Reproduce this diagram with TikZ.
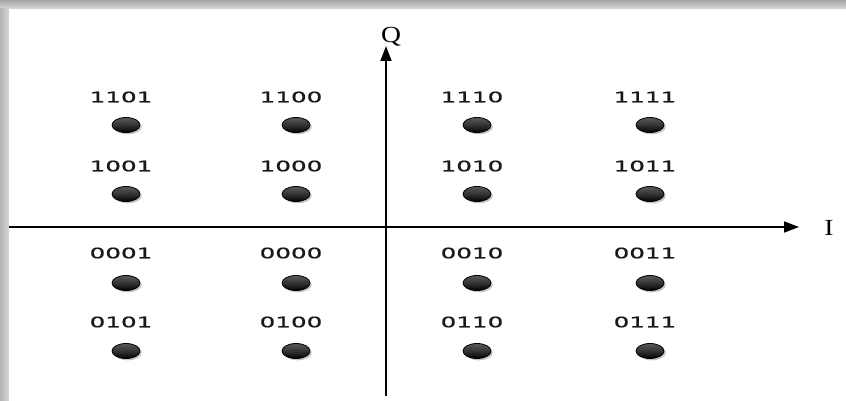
\documentclass[tikz,border=0pt]{standalone}
\usepackage{fontspec}
\usepackage{tikz}
\usetikzlibrary{arrows.meta,shapes.geometric,shadows}

\newfontfamily\bitfont[FakeStretch=1.7,FakeBold=0.6]{DejaVu Sans}
\newfontfamily\axfont[FakeStretch=1.2]{Liberation Serif}

\tikzset{
  dot/.style={ellipse, minimum width=28pt, minimum height=15pt, inner sep=0pt,
    draw=black, line width=0.8pt, top color=black!65, bottom color=black, middle color=black!80,
    drop shadow={shadow xshift=1.8pt, shadow yshift=-1.8pt, opacity=0.45}},
  bits/.style={font=\bitfont\fontsize{14.5}{15}\selectfont, text=black!90, inner sep=0pt},
  axis/.style={line width=1.7pt, -{Triangle[length=15pt,width=11pt]}},
  axlabel/.style={font=\axfont\fontsize{23}{25}\selectfont, inner sep=0pt}
}

\begin{document}
\begin{tikzpicture}[x=1pt,y=-1pt]
  \useasboundingbox (0,0) rectangle (846,401);
  % frame with inner shadow
  \fill[white] (0,0) rectangle (846,401);
  \shade[top color=black!35, bottom color=black!15] (0,0) rectangle (846,9);
  \shade[left color=black!30, right color=black!15] (0,9) rectangle (9,401);

  % Axes
  \coordinate (Istart) at (9,227);
  \coordinate (Iend) at (799,227);
  \coordinate (Qstart) at (386,396);
  \coordinate (Qend) at (386,46);
  \draw[axis] (Istart) -- (Iend);
  \draw[axis] (Qstart) -- (Qend);
  \node[axlabel] (Ilab) at (829,228) {I};
  \node[axlabel] (Qlab) at (391,37) {Q};

  % top row
  \node[bits] (l1101) at (121,97) {1101};
  \node[dot] (d1101) at (126,125) {};
  \node[bits] (l1100) at (291,97) {1100};
  \node[dot] (d1100) at (296,125) {};
  \node[bits] (l1110) at (472,97) {1110};
  \node[dot] (d1110) at (477,125) {};
  \node[bits] (l1111) at (645,97) {1111};
  \node[dot] (d1111) at (650,125) {};

  % second row
  \node[bits] (l1001) at (121,166) {1001};
  \node[dot] (d1001) at (126,194) {};
  \node[bits] (l1000) at (291,166) {1000};
  \node[dot] (d1000) at (296,194) {};
  \node[bits] (l1010) at (472,166) {1010};
  \node[dot] (d1010) at (477,194) {};
  \node[bits] (l1011) at (645,166) {1011};
  \node[dot] (d1011) at (650,194) {};

  % third row
  \node[bits] (l0001) at (121,253) {0001};
  \node[dot] (d0001) at (126,283) {};
  \node[bits] (l0000) at (291,253) {0000};
  \node[dot] (d0000) at (296,283) {};
  \node[bits] (l0010) at (472,253) {0010};
  \node[dot] (d0010) at (477,283) {};
  \node[bits] (l0011) at (645,253) {0011};
  \node[dot] (d0011) at (650,283) {};

  % bottom row
  \node[bits] (l0101) at (121,322) {0101};
  \node[dot] (d0101) at (126,351) {};
  \node[bits] (l0100) at (291,322) {0100};
  \node[dot] (d0100) at (296,351) {};
  \node[bits] (l0110) at (472,322) {0110};
  \node[dot] (d0110) at (477,351) {};
  \node[bits] (l0111) at (645,322) {0111};
  \node[dot] (d0111) at (650,351) {};
\end{tikzpicture}
\end{document}
